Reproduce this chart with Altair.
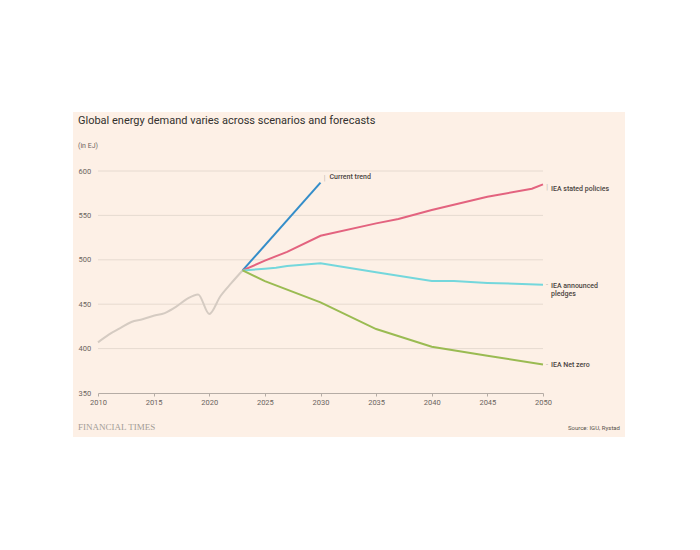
import altair as alt
import pandas as pd

# ---- data ----
hist_years = [2010, 2011, 2012, 2013, 2014, 2015, 2016, 2017, 2018, 2019, 2020, 2021, 2022, 2023]
hist_values = [407, 416, 423, 430, 433, 437, 440, 447, 456, 461, 439, 459, 474, 488]

trend_years = [2023, 2030]
trend_values = [488, 587]

stated_years = [2023, 2025, 2027, 2030, 2035, 2037, 2040, 2045, 2049, 2050]
stated_values = [488, 499, 509, 527, 541, 546, 556, 571, 580, 585]

pledges_years = [2023, 2025, 2026, 2027, 2030, 2035, 2040, 2042, 2045, 2050]
pledges_values = [488, 490, 491, 493, 496, 486, 476, 476, 474, 472]

netzero_years = [2023, 2025, 2030, 2035, 2040, 2045, 2050]
netzero_values = [488, 476, 452, 422, 402, 392, 382]

series_names = ["History", "Current trend", "IEA stated policies", "IEA announced pledges", "IEA Net zero"]
series_colors = ["#d5cbc2", "#348dc9", "#e3637f", "#74d7dc", "#9abb52"]

x_ticks = [2010, 2015, 2020, 2025, 2030, 2035, 2040, 2045, 2050]
y_ticks = [350, 400, 450, 500, 550, 600]

frames = []
for name, ys, vs in [
    ("Current trend", trend_years, trend_values),
    ("IEA stated policies", stated_years, stated_values),
    ("IEA announced pledges", pledges_years, pledges_values),
    ("IEA Net zero", netzero_years, netzero_values),
]:
    frames.append(pd.DataFrame({"series": name, "year": ys, "value": vs}))
proj = pd.concat(frames, ignore_index=True)
hist = pd.DataFrame({"series": "History", "year": hist_years, "value": hist_values})

W, H = 445, 222
PANEL = "#fdf0e6"

x_scale = alt.Scale(domain=[2010, 2050], nice=False)
y_scale = alt.Scale(domain=[350, 600], nice=False)
color = alt.Color("series:N", scale=alt.Scale(domain=series_names, range=series_colors), legend=None)

bg = alt.Chart(pd.DataFrame({"a": [0]})).mark_rect(fill=PANEL, clip=False).encode(
    x=alt.value(-25), x2=alt.value(527), y=alt.value(-59), y2=alt.value(266)
)

grid = alt.Chart(pd.DataFrame({"value": y_ticks[1:]})).mark_rule(color="#e6dad0", strokeWidth=1).encode(
    y=alt.Y("value:Q", scale=y_scale), x=alt.value(0), x2=alt.value(W)
)

x_axis = alt.Axis(values=x_ticks, format="d", title=None, grid=False, zindex=1,
                  domainColor="#b5aca5", tickColor="#b5aca5", tickSize=3,
                  labelFlush=False, labelPadding=2, labelFontSize=7.5,
                  labelColor="#6b6460", labelFont="Roboto")
y_axis = alt.Axis(values=y_ticks, title=None, domain=False, ticks=False, tickSize=0,
                  grid=False, zindex=1,
                  labelAlign="left", labelPadding=20, labelFontSize=7.5,
                  labelColor="#6b6460", labelFont="Roboto")

hist_line = alt.Chart(hist).mark_line(strokeWidth=2, interpolate="monotone").encode(
    x=alt.X("year:Q", scale=x_scale, axis=x_axis),
    y=alt.Y("value:Q", scale=y_scale, axis=y_axis),
    color=color,
    order="year:Q",
)

proj_lines = alt.Chart(proj).mark_line(strokeWidth=2, interpolate="linear").encode(
    x=alt.X("year:Q", scale=x_scale),
    y=alt.Y("value:Q", scale=y_scale),
    color=color,
    detail="series:N",
    order="year:Q",
)

label_text = ["Current trend", "IEA stated policies", ["IEA announced", "pledges"], "IEA Net zero"]
label_x = [trend_years[-1], stated_years[-1], pledges_years[-1], netzero_years[-1]]
label_y = [trend_values[-1], stated_values[-1], pledges_values[-1], netzero_values[-1]]

def label_layer(i, dx, dy, lead, ldx, ldy):
    d = pd.DataFrame({"year": [label_x[i]], "value": [label_y[i]], "t": [label_text[i]]})
    base = alt.Chart(d)
    txt = base.mark_text(align="left", baseline="middle", dx=dx, dy=dy, fontSize=7,
                         font="Roboto", fontWeight=500, color="#4a4441", lineHeight=8).encode(
        x=alt.X("year:Q", scale=x_scale), y=alt.Y("value:Q", scale=y_scale), text="t")
    ld = base.mark_text(align="center", baseline="middle", dx=ldx, dy=ldy, fontSize=7,
                        font="Roboto", color="#b9b0a9", text=lead).encode(
        x=alt.X("year:Q", scale=x_scale), y=alt.Y("value:Q", scale=y_scale))
    return [txt, ld]

labels = []
labels += label_layer(0, 9, -6, "|", 4, -5)
labels += label_layer(1, 8, 5, "|", 4, 3)
labels += label_layer(2, 8, 1, "-", 4, 0)
labels += label_layer(3, 8, 0, "-", 4, 0)

def note(text, x, y, size, color, font="Roboto", weight="normal", align="left"):
    return alt.Chart(pd.DataFrame({"t": [text]})).mark_text(
        align=align, baseline="middle", fontSize=size, font=font, fontWeight=weight, color=color
    ).encode(x=alt.value(x), y=alt.value(y), text="t")

notes = [
    note("Global energy demand varies across scenarios and forecasts", -20, -50, 11, "#33302e"),
    note("(in EJ)", -20, -25, 7, "#6b6460"),
    note("FINANCIAL TIMES", -20, 256, 9, "#a39c96", font="Liberation Serif"),
    note("Source: IGU, Rystad", 522, 257, 6, "#55504c", align="right"),
]

chart = alt.layer(bg, grid, hist_line, proj_lines, *labels, *notes).properties(
    width=W, height=H,
    autosize=alt.AutoSizeParams(type="none"),
    padding={"left": 90, "top": 163, "right": 149, "bottom": 149},
    background="white",
).configure_view(stroke=None)

chart.save("out.html", embed_options={"renderer": "svg", "actions": False})
